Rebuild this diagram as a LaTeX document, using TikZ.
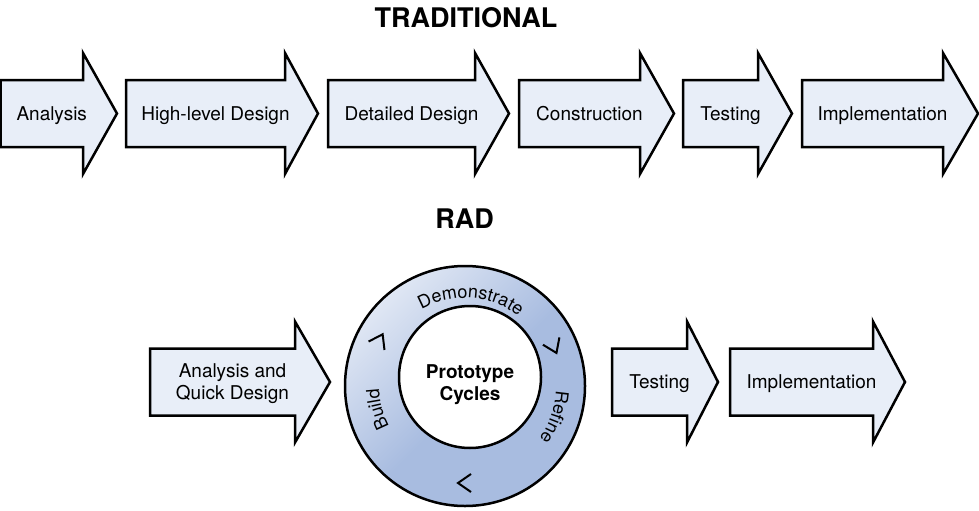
\documentclass[tikz,border=0pt]{standalone}
\usepackage{fontspec}
\setmainfont{TeX Gyre Heros}
\usetikzlibrary{decorations.text, calc}

\definecolor{stagefill}{RGB}{232,238,248}
\definecolor{ringblue}{RGB}{168,188,224}
\pgfdeclareverticalshading{ringfade}{100bp}{color(0bp)=(ringblue);
    color(48bp)=(ringblue); color(90bp)=(white); color(100bp)=(white)}

% #1 name, #2 left end, #3 start of head, #4 tip, #5 middle, #6 label
\newcommand{\stagearrow}[6]{
    \draw[stage] (#2,#5-33.5) -- (#3,#5-33.5) -- (#3,#5-60.5) -- (#4,#5)
        -- (#3,#5+60.5) -- (#3,#5+33.5) -- (#2,#5+33.5) -- cycle;
    \node[stagetext] (#1) at ({(#2+#3)/2+10},#5) {#6};
}

\begin{document}
\begin{tikzpicture}[x=0.5pt, y=0.5pt,
    stage/.style={draw, line width=1.25pt, fill=stagefill, line join=miter},
    stagetext/.style={font=\fontsize{9.5}{11}\selectfont, align=center, text depth=0pt},
    heading/.style={font=\fontsize{13.5}{16}\selectfont\bfseries},
    ringline/.style={line width=1.25pt},
    chevron/.style={line width=1pt}]
    \useasboundingbox (0,0) rectangle (979,510);

    \node[heading] (trad) at (466,492.5) {TRADITIONAL};
    \node[heading] (rad) at (464.5,291.5) {RAD};

    % traditional chain
    \stagearrow{analysis}{0.5}{83}{117}{396.5}{Analysis}
    \stagearrow{hld}{126}{285}{318}{396.5}{High-level Design}
    \stagearrow{dd}{328}{475}{509}{396.5}{Detailed Design}
    \stagearrow{constr}{519}{640}{674}{396.5}{Construction}
    \stagearrow{test}{683}{758}{792}{396.5}{Testing}
    \stagearrow{impl}{802}{943}{978}{396.5}{Implementation}

    % rad chain
    \stagearrow{aqd}{150}{295}{330}{128}{Analysis and\\Quick Design}
    \stagearrow{radtest}{612}{687}{718}{128}{Testing}
    \stagearrow{radimpl}{730}{873}{905}{128}{Implementation}

    % prototype ring
    \coordinate (ring) at (465,124);
    \shade[shading=ringfade, shading angle=45] (ring) circle[radius=120];
    \draw[ringline] (ring) circle[radius=120];
    \draw[ringline, fill=white] (470,133) circle[radius=71];
    \node[font=\fontsize{9.5}{11}\selectfont\bfseries, align=center] (core)
        at (470,125) {Prototype\\Cycles};

    \foreach \a in {152, 24, -90}
        \draw[chevron, shift={(ring)}, rotate=\a] (88,6) -- (97,-7) -- (106,6);

    \path[decorate, decoration={text along path, text align=center,
        text={|\fontsize{9}{11}\selectfont|Demonstrate}}]
        (ring) ++(146:88) arc[start angle=146, end angle=26, radius=88];
    \path[decorate, decoration={text along path, text align=center,
        text={|\fontsize{9}{11}\selectfont|Refine}}]
        (ring) ++(11:91) arc[start angle=11, end angle=-49, radius=91];
    \path[decorate, decoration={text along path, text align=center,
        text={|\fontsize{9}{11}\selectfont|Build}}]
        (ring) ++(225:86) arc[start angle=225, end angle=165, radius=86];
\end{tikzpicture}
\end{document}
